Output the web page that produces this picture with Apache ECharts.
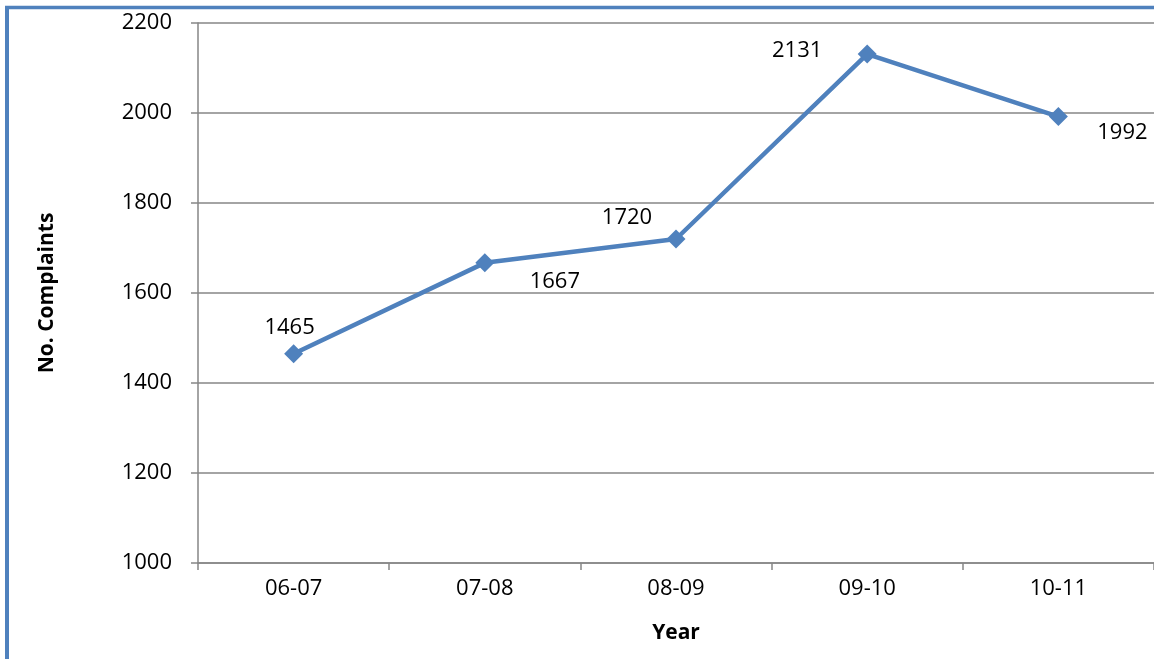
<!DOCTYPE html>
<html>
<head>
<meta charset="utf-8">
<script src="https://cdn.jsdelivr.net/npm/echarts@6/dist/echarts.min.js"></script>
<style>
html,body{margin:0;padding:0;background:#fff;}
#chart{width:1154px;height:659px;}
</style>
</head>
<body>
<div id="chart"></div>
<script>
var categories = ['06-07', '07-08', '08-09', '09-10', '10-11'];
var complaints = [1465, 1667, 1720, 2131, 1992];
var labelOffsets = [[-4, -26], [70, 19], [-49, -21], [-70, -3], [64, 16]];
var yTicks = {min: 1000, max: 2200, interval: 200};

var FONT = '"Open Sans", "Liberation Sans", sans-serif';
var chart = echarts.init(document.getElementById('chart'), null, {renderer: 'canvas'});

var seriesData = complaints.map(function (v, i) {
  return {
    value: v,
    label: {
      show: true,
      position: 'inside',
      offset: labelOffsets[i],
      color: '#000',
      fontFamily: FONT,
      fontSize: 22,
      formatter: '{c}'
    }
  };
});

chart.setOption({
  animation: false,
  backgroundColor: '#fff',
  graphic: [
    {type: 'line', shape: {x1: 5, y1: 7.5, x2: 1160, y2: 7.5},
     style: {stroke: '#4f81bd', lineWidth: 3.5}, z: 100},
    {type: 'line', shape: {x1: 7, y1: 6, x2: 7, y2: 670},
     style: {stroke: '#4f81bd', lineWidth: 4}, z: 100}
  ],
  grid: {left: 198, top: 23, width: 960, height: 540, containLabel: false},
  xAxis: {
    type: 'category',
    data: categories,
    boundaryGap: true,
    name: 'Year',
    nameLocation: 'middle',
    nameGap: 60,
    nameTextStyle: {fontFamily: FONT, fontWeight: 'bold', fontSize: 21, color: '#000'},
    axisLine: {lineStyle: {color: '#868686', width: 1.5}},
    axisTick: {show: true, length: 7, lineStyle: {color: '#868686', width: 1.5}},
    axisLabel: {fontFamily: FONT, fontSize: 22, color: '#000', margin: 15},
    splitLine: {show: false}
  },
  yAxis: {
    type: 'value',
    min: yTicks.min,
    max: yTicks.max,
    interval: yTicks.interval,
    name: 'No. Complaints',
    nameLocation: 'middle',
    nameGap: 140,
    nameRotate: 90,
    nameTextStyle: {fontFamily: FONT, fontWeight: 'bold', fontSize: 21, color: '#000'},
    axisLine: {show: true, lineStyle: {color: '#868686', width: 1.5}},
    axisTick: {show: true, length: 7, lineStyle: {color: '#868686', width: 1.5}},
    axisLabel: {fontFamily: FONT, fontSize: 22, color: '#000', margin: 26,
                formatter: function (v) { return String(v); }},
    splitLine: {show: true, lineStyle: {color: '#868686', width: 1.5}}
  },
  series: [{
    type: 'line',
    data: seriesData,
    symbol: 'diamond',
    symbolSize: 19,
    lineStyle: {color: '#4f81bd', width: 4.5},
    itemStyle: {color: '#4f81bd'},
    z: 5
  }]
});
</script>
</body>
</html>
